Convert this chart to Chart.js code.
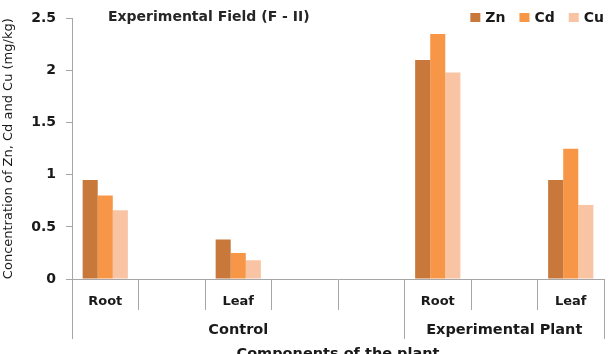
<!DOCTYPE html>
<html>
<head>
<meta charset="utf-8">
<script src="https://cdn.jsdelivr.net/npm/chart.js@4/dist/chart.umd.min.js"></script>
<style>
    html, body { margin: 0; padding: 0; background: #fff; overflow: hidden; }
    #wrap { position: relative; width: 616px; height: 370px; }
</style>
</head>
<body>
<div id="wrap"><canvas id="metalChart"></canvas></div>
<script>
// categories along the axis (blank slots kept as in the original)
const parts = ["Root", "", "Leaf", "", "", "Root", "", "Leaf"];
const groups = ["", "", "Control", "", "", "", "Experimental Plant", ""];

// metal concentrations (mg/kg)
const zn = [0.95, null, 0.38, null, null, 2.10, null, 0.95];
const cd = [0.80, null, 0.25, null, null, 2.35, null, 1.25];
const cu = [0.66, null, 0.18, null, null, 1.98, null, 0.71];

const yTicks = [0, 0.5, 1, 1.5, 2, 2.5];

const axisGrey = "#a6a6a6";
const textCol = "#1a1a1a";
const fontName = "'DejaVu Sans', sans-serif";

// title and legend sit inside the plot area, top left / top right
const insideLabels = {
    id: "insideLabels",
    afterDraw(chart) {
        const c = chart.ctx;
        const area = chart.chartArea;
        c.save();
        c.textBaseline = "middle";

        c.font = "bold 14px " + fontName;
        c.fillStyle = "#262626";
        c.fillText("Experimental Field (F - II)", area.left + 36, 17);

        c.font = "bold 14px " + fontName;
        const sets = chart.data.datasets;
        const box = 10, gap = 5, step = 14;
        let total = 0;
        sets.forEach((d, i) => {
            total += box + gap + c.measureText(d.label).width + (i < sets.length - 1 ? step : 0);
        });
        let x = area.right - total;
        const y = 18;
        sets.forEach(d => {
            c.fillStyle = d.backgroundColor;
            c.fillRect(x, y - 5, box, 9);
            x += box + gap;
            c.fillStyle = textCol;
            c.fillText(d.label, x, y);
            x += c.measureText(d.label).width + step;
        });
        c.restore();
    }
};

const ctx = document.getElementById("metalChart");

new Chart(ctx, {

    type: "bar",

    data: {
        labels: parts,
        datasets: [
            { label: "Zn", data: zn, backgroundColor: "#C8783A" },
            { label: "Cd", data: cd, backgroundColor: "#F79646" },
            { label: "Cu", data: cu, backgroundColor: "#F8C4A4" }
        ]
    },

    options: {
        responsive: true,
        maintainAspectRatio: false,
        animation: false,
        layout: { padding: { top: 11, right: 12, left: 0, bottom: 0 } },
        datasets: {
            bar: { categoryPercentage: 0.68, barPercentage: 1.0, borderWidth: 0 }
        },
        scales: {
            x: {
                offset: true,
                afterFit(scale) { scale.height = 31; },
                grid: {
                    offset: true,
                    drawOnChartArea: false,
                    tickLength: 31,
                    color: axisGrey
                },
                border: { color: axisGrey },
                ticks: {
                    padding: -16,
                    autoSkip: false,
                    maxRotation: 0,
                    color: textCol,
                    font: { family: fontName, size: 13, weight: "bold" }
                }
            },
            x2: {
                type: "category",
                labels: groups,
                position: "bottom",
                offset: true,
                afterFit(scale) { scale.height = 60; },
                grid: {
                    offset: true,
                    drawOnChartArea: false,
                    tickLength: 29,
                    color: (c) => (c.type === "scale" || c.index === 0 || c.index === 5) ? axisGrey : "rgba(0,0,0,0)"
                },
                border: { display: false },
                ticks: {
                    padding: -17,
                    autoSkip: false,
                    maxRotation: 0,
                    color: textCol,
                    font: { family: fontName, size: 14.5, weight: "bold" }
                },
                title: {
                    display: true,
                    text: "Components of the plant",
                    color: textCol,
                    padding: { top: 12, bottom: 7 },
                    font: { family: fontName, size: 14.5, weight: "bold" }
                }
            },
            y: {
                min: 0,
                max: 2.5,
                afterFit(scale) { scale.width = 72; },
                afterBuildTicks(scale) { scale.ticks = yTicks.map(v => ({ value: v })); },
                grid: {
                    drawOnChartArea: false,
                    tickLength: 6,
                    color: axisGrey
                },
                border: { color: axisGrey },
                ticks: {
                    padding: 10,
                    color: textCol,
                    callback: (v) => String(v),
                    font: { family: fontName, size: 14, weight: "bold" }
                },
                title: {
                    display: true,
                    text: "Concentration of Zn, Cd and Cu (mg/kg)",
                    color: textCol,
                    padding: { top: 1, bottom: 0 },
                    font: { family: fontName, size: 13 }
                }
            }
        },
        plugins: {
            legend: { display: false },
            tooltip: { enabled: false }
        }
    },

    plugins: [insideLabels]

});
</script>
</body>
</html>
